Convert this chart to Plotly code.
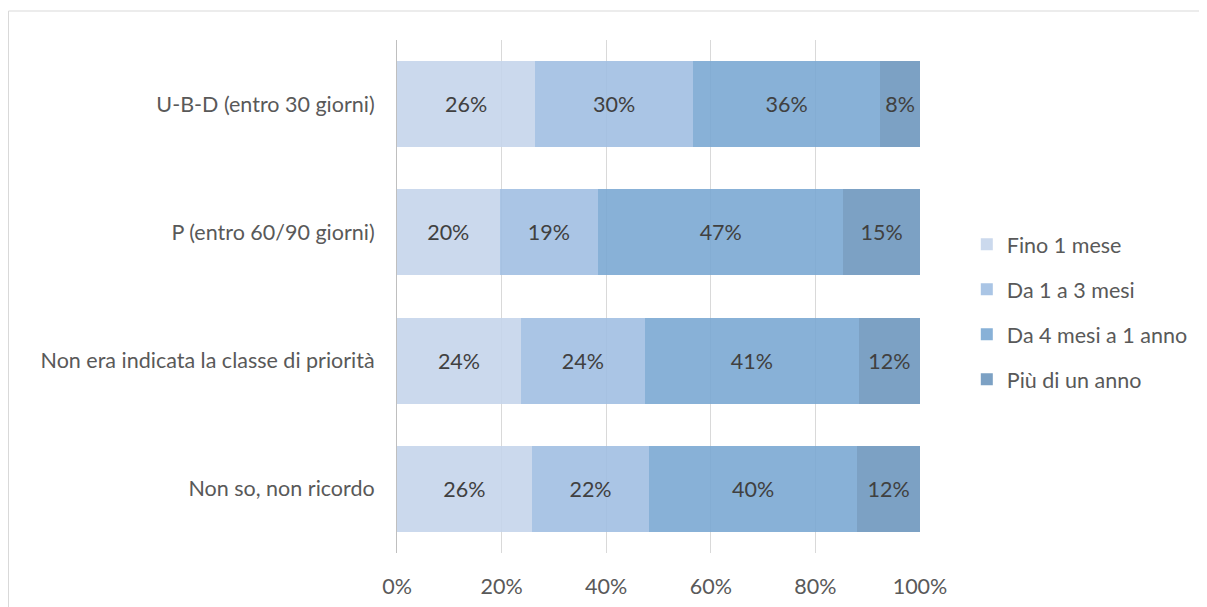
import plotly.graph_objects as go

categories = ["U-B-D (entro 30 giorni)", "P (entro 60/90 giorni)",
              "Non era indicata la classe di priorità", "Non so, non ricordo"]
series_names = ["Fino 1 mese", "Da 1 a 3 mesi", "Da 4 mesi a 1 anno", "Più di un anno"]
fino_1_mese = [26.4, 19.6, 23.7, 25.8]
da_1_a_3_mesi = [30.2, 18.9, 23.7, 22.4]
da_4_mesi_a_1_anno = [35.8, 46.8, 40.9, 39.8]
piu_di_un_anno = [7.6, 14.7, 11.7, 12.0]
x_ticks = [0, 20, 40, 60, 80, 100]
x_tick_labels = ["0%", "20%", "40%", "60%", "80%", "100%"]

series_values = [fino_1_mese, da_1_a_3_mesi, da_4_mesi_a_1_anno, piu_di_un_anno]
colors = ["rgba(196,212,235,0.88)", "rgba(158,189,225,0.88)",
          "rgba(119,166,210,0.88)", "rgba(106,148,188,0.88)"]

FONT = "Lato"
FS = 21.5
fig = go.Figure()
for i, (name, vals) in enumerate(zip(series_names, series_values)):
    fig.add_trace(go.Bar(
        y=categories, x=vals, name=name, orientation="h",
        marker=dict(color=colors[i], line=dict(width=0)),
        text=[f"{round(v):d}%" for v in vals],
        textposition="inside", insidetextanchor="middle",
        textfont=dict(family=FONT, size=FS, color="#404040"),
        constraintext="none",
        legendgroup=name,
        hoverinfo="x+y+name",
    ))

fig.update_layout(
    barmode="stack", bargap=0.33,
    width=1199, height=599,
    margin=dict(l=389, r=287, t=32, b=54, autoexpand=False),
    paper_bgcolor="white", plot_bgcolor="white",
    font=dict(family=FONT, size=FS, color="#595959"),
    legend=dict(x=1.0895, xanchor="left", y=0.47, yanchor="middle",
                traceorder="grouped", tracegroupgap=14,
                font=dict(family=FONT, size=FS, color="#595959"),
                itemwidth=30),
    showlegend=True,
    shapes=[dict(type="rect", xref="paper", yref="paper",
                 x0=-0.7428, x1=1.5478, y0=-0.3, y1=1.0565,
                 line=dict(color="#D9D9D9", width=1), fillcolor="rgba(0,0,0,0)",
                 layer="below")],
)
fig.update_xaxes(range=[0, 100], tickvals=x_ticks, ticktext=x_tick_labels,
                 showgrid=True, gridcolor="#D9D9D9", gridwidth=1,
                 zeroline=False, showline=False, ticks="",
                 ticklabelstandoff=18, automargin=False,
                 tickfont=dict(family=FONT, size=FS, color="#595959"))
fig.update_yaxes(categoryorder="array", categoryarray=categories[::-1],
                 showline=True, linecolor="#BFBFBF", linewidth=1,
                 ticks="", ticklabelstandoff=17, automargin=False,
                 tickfont=dict(family=FONT, size=FS, color="#595959"))

fig.write_html("out.html")
